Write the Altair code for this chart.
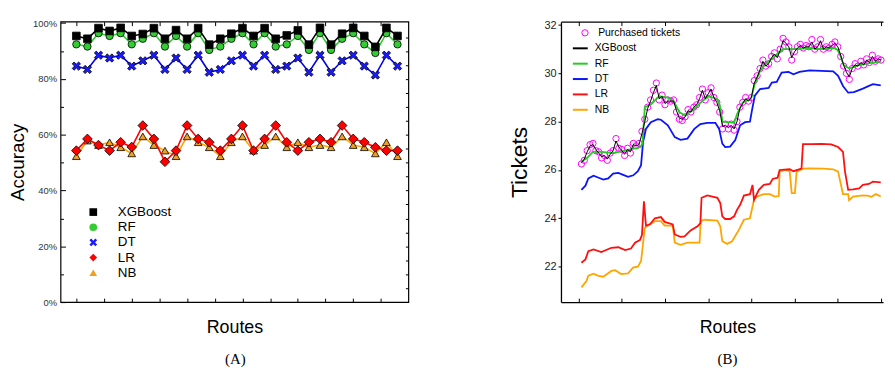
import altair as alt
import pandas as pd

# ---------------- Panel (A): accuracy per route ----------------
models = ["XGBoost", "RF", "DT", "LR", "NB"]
routes = list(range(30))
acc_xgboost = [95.4, 94.4, 98.2, 97.2, 98.3, 95.4, 96.1, 98.2, 94.4, 97.5,
               94.4, 98.2, 92.3, 94.4, 96.2, 98.2, 95.4, 98.2, 94.4, 95.6,
               97.4, 92.3, 98.3, 92.3, 96.2, 98.3, 95.4, 91.5, 98.3, 95.4]
acc_rf = [92.4, 91.6, 96.4, 95.4, 96.4, 92.4, 94.4, 96.4, 91.6, 95.4,
          91.6, 96.4, 90.4, 91.6, 94.4, 96.4, 92.4, 96.4, 91.6, 92.4,
          95.4, 90.4, 96.4, 90.4, 94.4, 96.4, 92.4, 89.3, 96.4, 92.4]
acc_dt = [84.6, 83.4, 88.5, 87.5, 88.5, 84.6, 86.5, 88.5, 83.4, 87.5,
          83.4, 88.5, 82.4, 83.4, 86.5, 88.5, 84.6, 88.5, 83.4, 84.6,
          87.5, 82.4, 88.5, 82.4, 86.5, 88.5, 84.6, 81.4, 88.5, 84.6]
acc_lr = [54.3, 58.5, 56.3, 54.3, 57.3, 55.6, 63.3, 58.5, 50.3, 54.3,
          63.3, 58.5, 57.3, 54.3, 58.5, 63.3, 54.3, 58.5, 63.3, 57.3,
          54.3, 57.3, 58.5, 57.3, 63.3, 58.5, 57.3, 55.5, 54.3, 54.3]
acc_nb = [52.3, 57.9, 56.3, 57.3, 55.5, 53.3, 59.4, 56.3, 54.3, 52.3,
          59.4, 57.3, 55.5, 52.3, 57.3, 59.4, 54.3, 56.3, 59.4, 55.5,
          57.3, 55.5, 56.3, 55.5, 59.4, 56.3, 55.5, 53.3, 57.3, 52.3]
route_ticks = [0, 2.5, 5, 7.5, 10, 12.5, 15, 17.5, 20, 22.5, 25, 27.5]
acc_major = [0, 20, 40, 60, 80, 100]
acc_minor = [10, 30, 50, 70, 90]
acc_right = [5, 10, 15, 20, 25, 30, 35, 40, 45, 50, 55, 60, 65, 70, 75, 80, 85, 90, 95]

# ---------------- Panel (B): tickets over time ----------------
days = list(range(1, 106))
purchased = [26.25, 26.4, 26.8, 27.05, 27.1, 26.8, 26.75, 26.5, 26.6, 26.4,
             26.7, 26.8, 27.3, 26.9, 26.85, 26.6, 26.9, 26.7, 27.1, 27.0,
             27.1, 27.6, 28.1, 28.6, 28.9, 29.3, 29.6, 28.9, 29.1, 28.7,
             28.9, 28.85, 28.9, 28.4, 28.1, 28.05, 28.2, 28.5, 28.4, 28.6,
             28.7, 29.0, 29.35, 28.9, 29.2, 29.4, 29.0, 28.8, 28.4, 27.7,
             27.9, 27.7, 27.9, 27.65, 28.0, 28.6, 28.8, 29.0, 28.85, 29.0,
             29.7, 29.9, 30.2, 30.55, 30.3, 30.4, 30.7, 30.85, 30.6, 31.0,
             31.45, 31.3, 31.1, 30.55, 30.9, 31.1, 31.2, 31.05, 31.15, 31.1,
             31.4, 31.0, 31.1, 31.4, 31.0, 31.1, 31.05, 31.2, 31.3, 31.1,
             30.7, 30.3, 30.0, 29.75, 30.2, 30.4, 30.3, 30.5, 30.35, 30.6,
             30.45, 30.75, 30.5, 30.6, 30.55]
pred_xgboost = [26.3, 26.45, 26.75, 27.0, 27.05, 26.85, 26.7, 26.55, 26.6, 26.45,
                26.65, 26.8, 27.2, 26.95, 26.8, 26.65, 26.85, 26.75, 27.05, 27.0,
                27.05, 27.5, 28.0, 28.55, 28.85, 29.2, 29.5, 28.95, 29.05, 28.75,
                28.85, 28.85, 28.85, 28.45, 28.15, 28.1, 28.2, 28.45, 28.4, 28.6,
                28.7, 28.95, 29.3, 28.95, 29.15, 29.35, 29.0, 28.8, 28.45, 27.8,
                27.85, 27.75, 27.85, 27.7, 28.0, 28.55, 28.75, 28.95, 28.85, 29.0,
                29.6, 29.85, 30.15, 30.5, 30.3, 30.4, 30.65, 30.8, 30.65, 30.95,
                31.35, 31.25, 31.1, 30.65, 30.9, 31.05, 31.15, 31.05, 31.1, 31.1,
                31.3, 31.0, 31.1, 31.35, 31.0, 31.1, 31.05, 31.15, 31.25, 31.1,
                30.75, 30.35, 30.05, 29.85, 30.2, 30.35, 30.3, 30.45, 30.35, 30.55,
                30.45, 30.7, 30.5, 30.6, 30.55]
rf_t = [1, 3, 5, 8, 12, 16, 20, 21.5, 22.2, 23, 25, 28, 31, 33, 35, 37, 40, 42, 45, 48,
        49, 50, 54, 55, 57, 59, 60, 61, 63, 65, 67, 69, 71, 73, 76, 80, 85, 89, 90, 91,
        92, 94, 96, 100, 105]
rf_v = [26.35, 26.5, 26.75, 26.75, 26.7, 26.8, 26.9, 26.95, 27.1, 28.6,
        28.7, 29.05, 29.0, 28.85, 28.4, 28.25, 28.5, 28.75, 29.05, 28.95,
        28.7, 28.0, 27.95, 28.3, 28.8, 28.9, 29.0, 29.5, 30.1, 30.4,
        30.6, 30.8, 31.0, 31.0, 31.0, 31.05, 31.0, 31.05, 30.95, 30.7,
        30.35, 30.2, 30.3, 30.4, 30.5]
dt_t = [1.0, 2.4, 3.4, 5.2, 7.0, 8.6, 10.3, 12.0, 13.8, 15.5,
        17.2, 19.0, 20.6, 21.7, 22.4, 23.4, 25.1, 27.5, 28.6, 31.0,
        33.4, 35.4, 37.8, 40.2, 42.3, 44.7, 47.5, 48.8, 49.9, 50.9,
        52.6, 54.4, 56.1, 57.8, 59.5, 60.2, 61.2, 63.0, 66.0, 67.1,
        68.8, 70.5, 72.9, 74.6, 76.7, 80.2, 84.3, 88.4, 90.1, 91.8,
        93.6, 95.6, 98.7, 100.8, 102.2, 104.9]
dt_v = [25.18, 25.35, 25.65, 25.76, 25.68, 25.6, 25.65, 25.85, 25.88, 25.8,
        25.72, 25.78, 25.95, 26.2, 27.16, 27.7, 27.98, 28.1, 28.08, 27.85,
        27.36, 27.25, 27.3, 27.7, 27.9, 27.95, 27.95, 27.7, 27.09, 26.95,
        26.97, 27.24, 27.85, 27.98, 28.0, 28.47, 29.08, 29.35, 29.4, 29.62,
        29.65, 30.03, 30.06, 29.96, 30.06, 30.12, 30.1, 30.08, 29.9, 29.48,
        29.2, 29.22, 29.37, 29.48, 29.55, 29.5]
lr_t = [1.0, 2.4, 3.4, 5.2, 7.9, 11.4, 13.8, 16.2, 18.2, 19.6,
        21.3, 22.0, 22.7, 23.4, 24.8, 26.5, 28.6, 29.9, 32.7, 33.4,
        35.4, 36.8, 38.9, 41.3, 42.3, 42.7, 44.7, 48.2, 49.2, 49.9,
        50.9, 52.6, 54.0, 55.0, 56.1, 57.4, 59.5, 60.4, 60.9, 62.6,
        64.3, 66.4, 67.4, 69.1, 69.8, 73.3, 74.6, 77.4, 77.9, 80.8,
        84.3, 87.7, 90.1, 91.8, 92.5, 93.6, 95.3, 97.4, 98.7, 100.8,
        102.2, 104.9]
lr_v = [22.16, 22.3, 22.64, 22.71, 22.6, 22.78, 22.8, 22.68, 22.75, 22.99,
        23.1, 23.3, 24.7, 23.7, 23.75, 24.0, 24.05, 23.85, 23.75, 23.33,
        23.23, 23.25, 23.5, 23.67, 23.8, 24.85, 24.95, 24.85, 24.63, 24.08,
        23.97, 23.97, 24.08, 24.35, 24.56, 24.94, 25.0, 25.38, 24.76, 25.18,
        25.38, 25.42, 25.63, 25.68, 26.0, 26.03, 25.95, 26.06, 27.07, 27.07,
        27.08, 27.06, 26.95, 26.75, 25.93, 25.18, 25.2, 25.24, 25.38, 25.42,
        25.52, 25.49]
nb_t = [1.0, 2.8, 3.4, 5.2, 6.9, 8.6, 11.4, 12.7, 14.8, 17.2,
        18.9, 20.6, 21.7, 23.0, 24.1, 26.5, 28.6, 29.9, 32.7, 33.4,
        35.4, 37.8, 42.0, 42.4, 43.7, 48.2, 49.2, 49.9, 51.6, 53.3,
        55.7, 57.4, 59.5, 60.9, 61.9, 64.3, 66.4, 68.1, 69.5, 69.8,
        71.6, 73.3, 74.0, 75.1, 75.7, 78.1, 80.2, 85.0, 88.4, 90.1,
        91.8, 93.6, 93.9, 95.3, 98.7, 100.8, 101.5, 103.2, 104.9]
nb_v = [21.14, 21.41, 21.62, 21.71, 21.62, 21.58, 21.82, 21.85, 21.69, 21.72,
        21.96, 22.0, 22.23, 23.6, 23.7, 23.88, 23.88, 23.7, 23.7, 22.99,
        22.9, 22.99, 22.99, 23.88, 23.94, 23.9, 23.67, 23.05, 22.94, 23.05,
        23.53, 23.94, 24.0, 24.76, 24.9, 25.0, 25.0, 24.9, 24.92, 25.93,
        26.0, 25.95, 25.04, 25.04, 25.93, 26.06, 26.07, 26.06, 26.03, 25.93,
        25.0, 25.0, 24.75, 24.9, 24.95, 24.93, 24.88, 25.0, 24.9]
day_ticks = [0, 15, 30, 45, 60, 75, 90, 105]
ticket_ticks = [22, 24, 26, 28, 30, 32]

# ---------------- layout constants ----------------
WA, HA = 351, 283
WB, HB = 325, 283

# ================= Panel A =================
dfA = pd.DataFrame({
    "route": routes * 5,
    "model": sum([[m] * len(routes) for m in models], []),
    "acc": acc_xgboost + acc_rf + acc_dt + acc_lr + acc_nb,
})
line_colors_A = ["#000000", "#2fcd2f", "#0000f0", "#ff0000", "#ffa500"]
fill_colors_A = ["#000000", "#33cc33", "#1a1aff", "#ff0000", "#f0a020"]
X_PATH = "M-1,-0.55L-0.55,-1L0,-0.45L0.55,-1L1,-0.55L0.45,0L1,0.55L0.55,1L0,0.45L-0.55,1L-1,0.55L-0.45,0Z"
shapes_A = ["square", "circle", X_PATH, "diamond", "triangle-up"]
sizes_A = [60, 55, 70, 95, 60]

xA_scale = alt.Scale(domain=[-1.43, 29.98], nice=False, zero=False)
yA_scale = alt.Scale(domain=[0, 100.53], nice=False, zero=False)

legA = alt.Legend(title=None, orient="none", legendX=26.3, legendY=185.4,
                  labelFontSize=13.5, labelColor="black", symbolSize=60,
                  symbolStrokeColor="black", symbolStrokeWidth=0.8,
                  rowPadding=0.3, labelOffset=18, symbolOpacity=1)


def tick_axis(orient, offset, values, size):
    return alt.Axis(orient=orient, offset=offset, values=values, domain=False,
                    labels=False, ticks=True, tickSize=size, tickColor="black",
                    tickWidth=1, title=None, grid=False)


def axis_layer(data, xf, yf, xs, ys, xaxis, yaxis):
    return alt.Chart(data).mark_point(opacity=0).encode(
        x=alt.X(xf, scale=xs, axis=xaxis), y=alt.Y(yf, scale=ys, axis=yaxis))


axA_main_x = alt.Axis(orient="bottom", title="Routes", domain=False, ticks=False,
                      labels=False, titleFontSize=18, titleFontWeight="normal",
                      titleColor="black", titlePadding=16.4, grid=False)
axA_main_y = alt.Axis(orient="left", title="Accuracy", values=acc_major,
                      labelExpr="datum.value + '%'", domain=False, ticks=False,
                      labelFontSize=9.5, labelColor="#333333", labelPadding=4,
                      titleFontSize=19, titleFontWeight="normal", titleColor="black",
                      titlePadding=4.7, grid=False)

layersA = [
    axis_layer(dfA, "route:Q", "acc:Q", xA_scale, yA_scale, axA_main_x, axA_main_y),
    axis_layer(dfA, "route:Q", "acc:Q", xA_scale, yA_scale,
               tick_axis("top", -HA, route_ticks, 4), tick_axis("right", -WA, acc_major, 5)),
    axis_layer(dfA, "route:Q", "acc:Q", xA_scale, yA_scale,
               tick_axis("bottom", -HA, route_ticks, 4), tick_axis("right", -WA, acc_minor, 3)),
    axis_layer(dfA, "route:Q", "acc:Q", xA_scale, yA_scale,
               None, tick_axis("left", -WA, acc_right, 3)),
]
for m, lc, sz in reversed(list(zip(models, line_colors_A, sizes_A))):
    base = alt.Chart(dfA).transform_filter(alt.datum.model == m)
    layersA.append(base.mark_line(color=lc, strokeWidth=1.6).encode(
        x=alt.X("route:Q", scale=xA_scale, axis=None),
        y=alt.Y("acc:Q", scale=yA_scale, axis=None)))
    layersA.append(base.mark_point(filled=True, size=sz, stroke="black",
                                   strokeWidth=0.8, opacity=1).encode(
        x=alt.X("route:Q", scale=xA_scale, axis=None),
        y=alt.Y("acc:Q", scale=yA_scale, axis=None),
        fill=alt.Fill("model:N", scale=alt.Scale(domain=models, range=fill_colors_A), legend=legA),
        shape=alt.Shape("model:N", scale=alt.Scale(domain=models, range=shapes_A), legend=legA)))

panelA = alt.layer(*layersA).resolve_axis(x="independent", y="independent").properties(
    width=WA, height=HA,
    title=alt.TitleParams("(A)", orient="bottom", anchor="middle", frame="group",
                          font="Liberation Serif", fontSize=15, fontWeight="normal",
                          color="black", offset=16, dx=1))

# ================= Panel B =================
line_models = ["XGBoost", "RF", "DT", "LR", "NB"]
line_colors_B = ["#000000", "#22cc22", "#0a14ff", "#ff1010", "#ffa500"]
line_widths_B = [1.0, 1.8, 1.8, 1.8, 1.8]
line_t = [days, rf_t, dt_t, lr_t, nb_t]
line_v = [pred_xgboost, rf_v, dt_v, lr_v, nb_v]

dfP = pd.DataFrame({"t": days, "v": purchased, "series": "Purchased tickets"})
dfL = pd.concat([pd.DataFrame({"t": tt, "v": vv, "series": m})
                 for m, tt, vv in zip(line_models, line_t, line_v)], ignore_index=True)

xB_scale = alt.Scale(domain=[-6.1, 105.7], nice=False, zero=False)
yB_scale = alt.Scale(domain=[20.53, 32.14], nice=False, zero=False)

legP = alt.Legend(title=None, orient="none", legendX=19, legendY=6,
                  labelFontSize=10.5, labelColor="black", symbolStrokeColor="#ff00ff",
                  symbolFillColor="transparent", symbolSize=40, symbolStrokeWidth=1,
                  labelOffset=8)
legL = alt.Legend(title=None, orient="none", legendX=11, legendY=18.4,
                  labelFontSize=10.5, labelColor="black", symbolType="stroke",
                  symbolSize=225, symbolStrokeWidth=2, rowPadding=1.5, labelOffset=6)

axB_main_x = alt.Axis(orient="bottom", title="Routes", domain=False, ticks=False,
                      labels=False, titleFontSize=18, titleFontWeight="normal",
                      titleColor="black", titlePadding=16.4, titleX=168, grid=False)
axB_main_y = alt.Axis(orient="left", title="Tickets", values=ticket_ticks,
                      domain=True, domainColor="black", domainWidth=1.3,
                      ticks=True, tickSize=3, tickColor="black",
                      labelFontSize=11, labelColor="#222222", labelPadding=2,
                      titleFontSize=23, titleFontWeight="normal", titleColor="black",
                      titlePadding=13, grid=False)
axB_bottom = alt.Axis(orient="top", offset=-HB, values=day_ticks, domain=True,
                      domainColor="black", domainWidth=1.3, labels=False,
                      ticks=True, tickSize=4, tickColor="black", title=None, grid=False)
axB_top = alt.Axis(orient="bottom", offset=-HB, values=day_ticks, domain=True,
                   domainColor="black", domainWidth=1.3, labels=False,
                   ticks=True, tickSize=4, tickColor="black", title=None, grid=False)

layersB = [
    axis_layer(dfP, "t:Q", "v:Q", xB_scale, yB_scale, axB_main_x, axB_main_y),
    axis_layer(dfP, "t:Q", "v:Q", xB_scale, yB_scale, axB_bottom, None),
    axis_layer(dfP, "t:Q", "v:Q", xB_scale, yB_scale, axB_top, None),
    alt.Chart(dfP).mark_point(filled=False, size=40, strokeWidth=1, color="#ff00ff",
                              opacity=1).encode(
        x=alt.X("t:Q", scale=xB_scale, axis=None),
        y=alt.Y("v:Q", scale=yB_scale, axis=None),
        shape=alt.Shape("series:N", scale=alt.Scale(domain=["Purchased tickets"], range=["circle"]),
                        legend=legP)),
]
for m, w in reversed(list(zip(line_models, line_widths_B))):
    layersB.append(alt.Chart(dfL).transform_filter(alt.datum.series == m).mark_line(
        strokeWidth=w).encode(
        x=alt.X("t:Q", scale=xB_scale, axis=None),
        y=alt.Y("v:Q", scale=yB_scale, axis=None),
        stroke=alt.Stroke("series:N", scale=alt.Scale(domain=line_models, range=line_colors_B),
                          legend=legL)))

panelB = alt.layer(*layersB).resolve_axis(x="independent", y="independent").properties(
    width=WB, height=HB, view=alt.ViewBackground(stroke="transparent"),
    title=alt.TitleParams("(B)", orient="bottom", anchor="middle", frame="group",
                          font="Liberation Serif", fontSize=15, fontWeight="normal",
                          color="black", offset=16, dx=5.5))

chart = alt.hconcat(panelA, panelB, spacing=98).resolve_scale(
    x="independent", y="independent", fill="independent", shape="independent",
    stroke="independent"
).resolve_legend(
    fill="independent", shape="independent", stroke="independent"
).properties(
    padding={"left": 0, "top": 7.15, "right": 0, "bottom": 0}
).configure(font="Liberation Sans").configure_view(
    stroke="black", strokeWidth=1.2
).configure_axis(grid=False)

chart.save("out.html", embed_options={"renderer": "svg", "actions": False})
